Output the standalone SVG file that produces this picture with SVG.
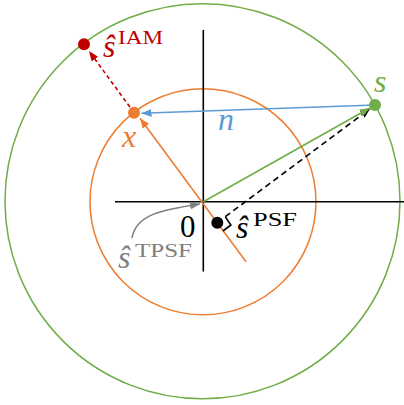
<svg xmlns="http://www.w3.org/2000/svg" width="404" height="405" viewBox="0 0 404 405">
<style>
.circ{fill:none;stroke-width:1.5}
.axis{stroke:#000;stroke-width:1.6;fill:none}
.ln{fill:none;stroke-width:1.6}
.math{font-family:"Liberation Serif","DejaVu Serif",serif;font-style:italic;font-size:32px}
.rm{font-family:"Liberation Serif","DejaVu Serif",serif;font-size:19.5px}
.num{font-family:"Liberation Serif","DejaVu Serif",serif;font-size:31px}
</style>
<defs>
<marker id="aO" markerUnits="userSpaceOnUse" markerWidth="11" markerHeight="8" refX="10" refY="4" orient="auto"><path d="M0,0 L10,4 L0,8 Z" fill="#ed7d31"/></marker>
<marker id="aG" markerUnits="userSpaceOnUse" markerWidth="11" markerHeight="8" refX="10" refY="4" orient="auto"><path d="M0,0 L10,4 L0,8 Z" fill="#70ad47"/></marker>
<marker id="aB" markerUnits="userSpaceOnUse" markerWidth="11" markerHeight="8" refX="10" refY="4" orient="auto"><path d="M0,0 L10,4 L0,8 Z" fill="#5b9bd5"/></marker>
<marker id="aR" markerUnits="userSpaceOnUse" markerWidth="11" markerHeight="8" refX="10" refY="4" orient="auto"><path d="M0,0 L10,4 L0,8 Z" fill="#c00000"/></marker>
<marker id="aK" markerUnits="userSpaceOnUse" markerWidth="11" markerHeight="8" refX="10" refY="4" orient="auto"><path d="M0,0 L10,4 L0,8 Z" fill="#000"/></marker>
<marker id="aY" markerUnits="userSpaceOnUse" markerWidth="11" markerHeight="8" refX="10" refY="4" orient="auto"><path d="M0,0 L10,4 L0,8 Z" fill="#808080"/></marker>
</defs>
<rect width="404" height="405" fill="#fff"/>
<g id="circles">
<circle class="circ" cx="202.5" cy="201.2" r="197.5" stroke="#70ad47"/>
<circle class="circ" cx="203" cy="201.8" r="113" stroke="#ed7d31"/>
</g>
<g id="axes">
<line class="axis" x1="115" y1="201.7" x2="404" y2="201.7"/>
<line class="axis" x1="203.3" y1="30" x2="203.3" y2="271.5"/>
</g>
<g id="connectors">
<path class="ln" d="M225.3,216.7 L370.2,108.6" stroke="#000" stroke-dasharray="6,4" marker-end="url(#aK)"/>
<path class="ln" d="M203.3,201.7 L369.8,108" stroke="#70ad47" marker-end="url(#aG)"/>
<path class="ln" d="M246,261.7 L140,118.3" stroke="#ed7d31" marker-end="url(#aO)"/>
<path class="ln" d="M375,105 L141.5,113.3" stroke="#5b9bd5" marker-end="url(#aB)"/>
<path class="ln" d="M134,112.7 L89,51" stroke="#c00000" stroke-dasharray="4,3" marker-end="url(#aR)"/>
<path class="ln" d="M132,238 C136,215 160,210 200,204" stroke="#808080" marker-end="url(#aY)"/>
<path class="ln" d="M225.3,216.7 L230.9,225 L222.9,231" stroke="#000"/>
</g>
<g id="node-siam">
<circle cx="84" cy="44.3" r="6" fill="#c00000"/>
<text class="math" x="103" y="56.5" fill="#c00000">ŝ</text>
<text class="rm" x="118" y="43.5" fill="#c00000" textLength="45" lengthAdjust="spacingAndGlyphs">IAM</text>
</g>
<g id="node-x">
<circle cx="134" cy="112.7" r="6" fill="#ed7d31"/>
<text class="math" x="122" y="147" fill="#ed7d31">x</text>
</g>
<g id="node-s">
<circle cx="375" cy="105" r="6" fill="#70ad47"/>
<text class="math" x="374" y="92" fill="#70ad47">s</text>
</g>
<g id="label-n">
<text class="math" x="218" y="130" fill="#5b9bd5">n</text>
</g>
<g id="node-origin">
<text class="num" x="180" y="237" fill="#000">0</text>
</g>
<g id="node-spsf">
<circle cx="217.3" cy="222.7" r="6" fill="#000"/>
<text class="math" x="236" y="238" fill="#000">ŝ</text>
<text class="rm" x="253" y="226" fill="#000" textLength="44" lengthAdjust="spacingAndGlyphs">PSF</text>
</g>
<g id="node-stpsf">
<text class="math" x="118" y="268" fill="#808080">ŝ</text>
<text class="rm" x="135" y="257" fill="#808080" textLength="57" lengthAdjust="spacingAndGlyphs">TPSF</text>
</g>
</svg>
